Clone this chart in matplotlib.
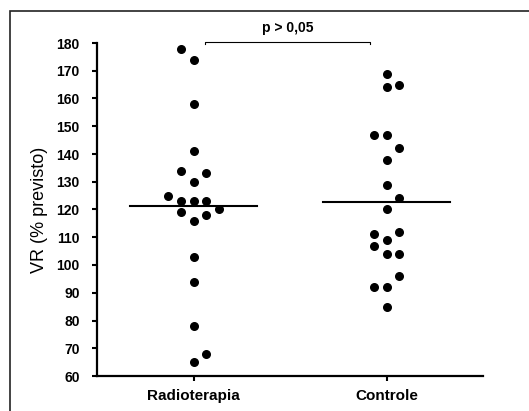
import numpy as np
import matplotlib
matplotlib.use("Agg")
import matplotlib.pyplot as plt
from matplotlib.patches import Rectangle

groups = ["Radioterapia", "Controle"]

radio_vals = [178, 174, 158, 141, 134, 133, 130, 125, 123, 123, 123,
              119, 120, 118, 116, 103, 94, 78, 68, 65]
radio_cols = [-1, 0, 0, 0, -1, 1, 0, -2, -1, 0, 1,
              -1, 2, 1, 0, 0, 0, 0, 1, 0]

ctrl_vals = [169, 164, 165, 147, 147, 142, 138, 129, 124, 120,
             111, 112, 109, 107, 104, 104, 96, 92, 92, 85]
ctrl_cols = [0, 0, 1, -1, 0, 1, 0, 0, 1, 0,
             -1, 1, 0, -1, 0, 1, 1, -1, 0, 0]

yticks = list(range(60, 181, 10))
p_label = "p > 0,05"

W, H = 529, 411
fig = plt.figure(figsize=(W / 100, H / 100), dpi=100)
ax = fig.add_axes([97 / W, 1 - 376 / H, (483 - 97) / W, (376 - 43) / H])

step = 0.066  # horizontal spacing of stacked dots
for i, (vals, cols) in enumerate([(radio_vals, radio_cols), (ctrl_vals, ctrl_cols)]):
    xs = i + step * np.array(cols)
    ax.scatter(xs, vals, s=30, color="black", zorder=3, clip_on=False)
    m = np.mean(vals)
    ax.plot([i - 0.33, i + 0.33], [m, m], color="black", lw=1.5, zorder=2)

ax.set_xlim(-0.5, 1.5)
ax.set_ylim(60, 180)
ax.set_xticks([0, 1])
ax.set_xticklabels(groups, fontsize=11, fontweight="bold", family="Liberation Sans")
ax.set_yticks(yticks)
ax.set_yticklabels([str(t) for t in yticks], fontsize=10, fontweight="bold",
                   family="Liberation Sans")
ax.tick_params(axis="y", length=3.5, width=1.5, pad=9)
ax.tick_params(axis="x", length=3.5, width=1.5, pad=6)
for side in ("top", "right"):
    ax.spines[side].set_visible(False)
for side in ("left", "bottom"):
    ax.spines[side].set_linewidth(1.6)

ax.set_ylabel("VR (% previsto)", fontsize=13, family="Liberation Sans", labelpad=6)

# significance bracket
bx0, bx1, by = 0.062, 0.917, 180.5
ax.plot([bx0, bx0, bx1, bx1], [by - 0.9, by, by, by - 0.9],
        color="black", lw=0.8, clip_on=False)
ax.text((bx0 + bx1) / 2, 185.5, p_label, ha="center", va="center",
        fontsize=10, fontweight="bold", family="Liberation Sans")

# frame around the whole figure (right/bottom edges fall outside)
fig.patches.append(Rectangle((10 / W, -0.1), 1.2, 1 - 11 / H + 0.1,
                             transform=fig.transFigure, fill=False,
                             edgecolor="#222222", lw=1.2))

fig.savefig("out.png", dpi=100)
